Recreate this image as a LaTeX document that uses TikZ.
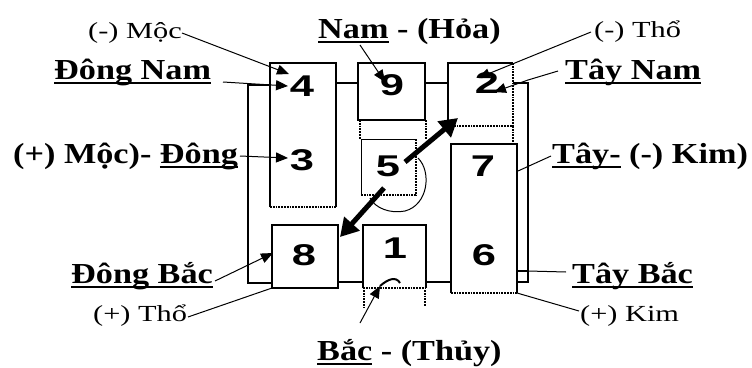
\documentclass[tikz,border=0pt]{standalone}
\usepackage{fontspec}
\usetikzlibrary{arrows.meta}
\newfontfamily\lbf{Liberation Serif}[FakeStretch=1.18]
\newfontfamily\lrf{Liberation Serif}[FakeStretch=1.32]
\newfontfamily\dgf{Liberation Sans}[FakeStretch=1.45]
\newcommand\myul[1]{\setbox0\hbox{#1}\rlap{\rule[-5pt]{\wd0}{2.5pt}}\box0\relax}
\begin{document}
\begin{tikzpicture}[x=1pt,y=-1pt,
  lab/.style={font=\fontsize{29}{32}\lbf\bfseries, inner sep=1pt, anchor=base west},
  sml/.style={font=\fontsize{23}{26}\lrf, inner sep=1pt, anchor=base west},
  num/.style={font=\fontsize{30}{32}\dgf\bfseries, inner sep=0pt},
  edge/.style={line width=1.8pt},
  dot/.style={line width=1.8pt, densely dotted},
  boxn/.style={draw=none, inner sep=0pt, outer sep=0pt, anchor=north west},
  conn/.style={line width=1pt},
  arr/.style={conn, -{Triangle[length=12pt,width=10pt]}},
  big/.style={line width=5pt, -{Triangle[length=18pt,width=20pt]}}]
\fill[white] (0,0) rectangle (752,367);
\useasboundingbox (0,0) rectangle (752,367);
% boxes
\node[boxn, minimum width=66pt, minimum height=144pt] (b43) at (270,63) {};
\node[boxn, minimum width=67pt, minimum height=57pt] (b9) at (358,63) {};
\node[boxn, minimum width=65pt, minimum height=63pt] (b2) at (448,63) {};
\node[boxn, minimum width=55pt, minimum height=56pt] (b5) at (361,139) {};
\node[boxn, minimum width=66pt, minimum height=149pt] (b76) at (451,144) {};
\node[boxn, minimum width=66pt, minimum height=63pt] (b8) at (272,225) {};
\node[boxn, minimum width=63pt, minimum height=63pt] (b1) at (363,225) {};
\draw[edge] (b43.south west)--(b43.north west)--(b43.north east)--(b43.south east);
\draw[dot] (b43.south west)--(b43.south east);
\draw[edge] (b9.north west) rectangle (b9.south east);
\draw[edge] (b2.south west)--(b2.north west)--(b2.north east);
\draw[dot] (b2.north east)--(b2.south east)--(b2.south west);
\draw[conn] (b5.south west)--(b5.north west)--(b5.north east);
\draw[dot] (b5.north east)--(b5.south east)--(b5.south west);
\draw[edge] (b76.south west)--(b76.north west)--(b76.north east)--(b76.south east);
\draw[dot] (b76.south west)--(b76.south east);
\draw[edge] (b8.north west) rectangle (b8.south east);
\draw[edge] (b1.south west)--(b1.north west)--(b1.north east)--(b1.south east);
\draw[dot] (b1.south west)--(b1.south east);
% frame
\draw[edge] (270,85)--(248,85)--(248,283)--(272,283);
\draw[edge] (336,83)--(358,83);
\draw[edge] (425,83)--(448,83);
\draw[edge] (513,83)--(528,83)--(528,282)--(517,282);
\draw[edge] (517,271)--(528,271);
\draw[edge] (338,282)--(363,282);
\draw[edge] (426,282)--(451,282);
\draw[dot] (360,120)--(360,139);
\draw[dot] (426,120)--(426,139);
\draw[dot] (513,126)--(513,144);
\draw[dot] (364,290)--(364,308);
\draw[dot] (425,290)--(425,306);
% numbers
\node[num] (n4) at (302,86) {4};
\node[num] (n3) at (302,160) {3};
\node[num] (n9) at (392,85) {9};
\node[num] (n2) at (487,83) {2};
\node[num] (n5) at (388,166) {5};
\node[num] (n7) at (483,166) {7};
\node[num] (n8) at (304,255) {8};
\node[num] (n1) at (395,248) {1};
\node[num] (n6) at (484,255) {6};
% curve by 5
\draw[conn] (418,158) .. controls (432,172) and (428,205) .. (405,211) .. controls (390,214) and (375,208) .. (370,198);
% big arrows
\coordinate (c5a) at (405,162); \coordinate (t2) at (458,118);
\coordinate (c5b) at (384,188); \coordinate (t8) at (340,237);
\draw[big] (c5a) -- (t2);
\draw[big] (c5b) -- (t8);
% labels
\node[sml] (mocm) at (87,38) {(-) Mộc};
\node[lab] (dn) at (53,79) {\myul{Đông Nam}};
\node[lab] (dg) at (12,163) {(+) Mộc)- \myul{Đông}};
\node[lab] (nam) at (317,38) {\myul{Nam} - (Hỏa)};
\node[sml] (thom) at (593,37) {(-) Thổ};
\node[lab] (tn) at (564,79) {\myul{Tây Nam}};
\node[lab] (tk) at (551,163) {\myul{Tây-} (-) Kim)};
\node[lab] (db) at (70,283) {\myul{Đông Bắc}};
\node[sml] (thop) at (92,321) {(+) Thổ};
\node[lab] (tb) at (571,283) {\myul{Tây Bắc}};
\node[sml] (kimp) at (579,321) {(+) Kim};
\node[lab] (bac) at (316,360) {\myul{Bắc} - (Thủy)};
% leader coordinates
\coordinate (s-mocm) at (182,33); \coordinate (e-mocm) at (289,74);
\coordinate (s-dn) at (223,82); \coordinate (e-dn) at (288,86);
\coordinate (s-dg) at (240,156); \coordinate (e-dg) at (288,158);
\coordinate (s-nam) at (360,45); \coordinate (e-nam) at (385,82);
\coordinate (s-thom) at (591,32); \coordinate (e-thom) at (478,78);
\coordinate (s-tn) at (558,71); \coordinate (m-tn) at (528,80); \coordinate (e-tn) at (494,92);
\coordinate (s-tk) at (551,156); \coordinate (e-tk) at (518,171);
\coordinate (s-db) at (215,281); \coordinate (e-db) at (273,253);
\coordinate (s-thop) at (188,317);
\coordinate (s-tb) at (566,272); \coordinate (e-tb) at (528,271);
\coordinate (s-kimp) at (579,311);
\coordinate (s-bac) at (360,323); \coordinate (e-bac) at (380,286);
\draw[arr] (s-mocm) -- (e-mocm);
\draw[arr] (s-dn) -- (e-dn);
\draw[arr] (s-dg) -- (e-dg);
\draw[arr] (s-nam) -- (e-nam);
\draw[arr] (s-thom) -- (e-thom);
\draw[arr] (s-tn) -- (m-tn) -- (e-tn);
\draw[conn] (s-tk) -- (e-tk);
\draw[arr] (s-db) -- (e-db);
\draw[conn] (s-thop) -- (b8.south west);
\draw[conn] (s-tb) -- (e-tb);
\draw[conn] (s-kimp) -- (b76.south east);
\draw[arr] (s-bac) -- (e-bac);
\draw[line width=2pt] (e-bac) .. controls (388,279) and (396,276) .. (400,283);
\end{tikzpicture}
\end{document}
